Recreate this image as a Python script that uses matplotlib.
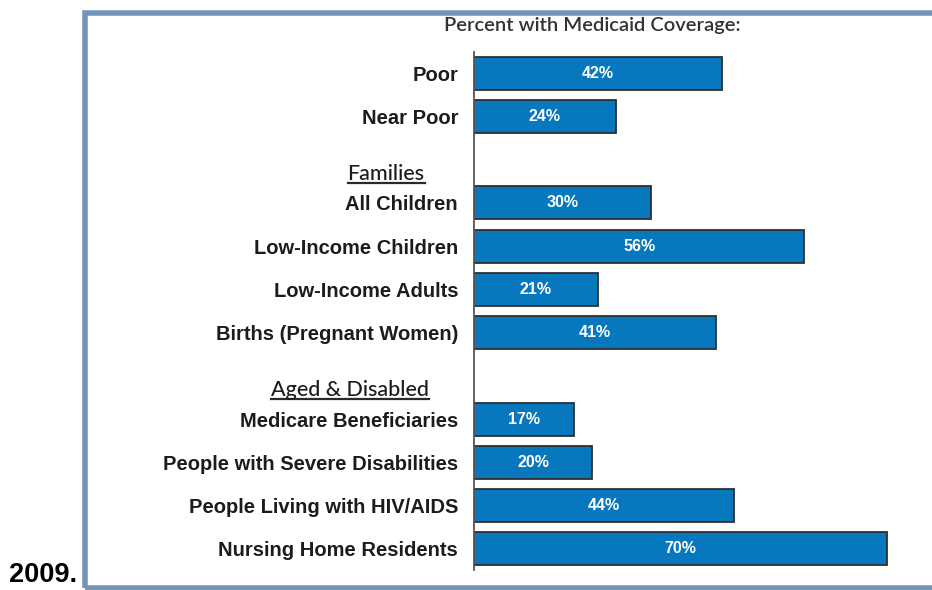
import matplotlib
matplotlib.use("Agg")
import matplotlib.pyplot as plt
from matplotlib import transforms
from matplotlib.lines import Line2D
from matplotlib.patches import Rectangle

# rows grouped under optional section headings
group_names = ["", "Families", "Aged & Disabled"]
group_rows = [
    ["Poor", "Near Poor"],
    ["All Children", "Low-Income Children", "Low-Income Adults",
     "Births (Pregnant Women)"],
    ["Medicare Beneficiaries", "People with Severe Disabilities",
     "People Living with HIV/AIDS", "Nursing Home Residents"],
]
group_values = [
    [42, 24],
    [30, 56, 21, 41],
    [17, 20, 44, 70],
]

BAR_BLUE = "#0878BE"
FRAME_BLUE = "#7395BB"
TEXT_DARK = "#1c1c1c"

W, H = 932, 590
fig = plt.figure(figsize=(W / 100, H / 100), dpi=100)

# slot layout: one empty slot before each named group
labels, values, slots, head_slots = [], [], [], []
pos = 0
for name, rows, vals in zip(group_names, group_rows, group_values):
    if name:
        head_slots.append((name, pos + 0.32))
        pos += 1
    for lab, v in zip(rows, vals):
        labels.append(lab)
        values.append(v)
        slots.append(pos)
        pos += 1

ax_left, ax_top, ax_bot = 474, 52, 570
ax = fig.add_axes([ax_left / W, (H - ax_bot) / H, 1 - ax_left / W,
                   (ax_bot - ax_top) / H])
ax.barh(slots, values, height=0.76, color=BAR_BLUE, edgecolor="#2f2f2f",
        linewidth=1.3, zorder=2)
for y, v in zip(slots, values):
    ax.text(v / 2, y, f"{v}%", ha="center", va="center", color="white",
            fontsize=11.5, fontweight="bold", family="Liberation Sans",
            zorder=3)

ax.set_xlim(0, (W - ax_left) / 5.9)
ax.set_ylim(pos - 1 + 0.49, -0.49)
ax.set_yticks(slots)
ax.set_yticklabels(labels, fontsize=14.5, fontweight="bold",
                   family="Liberation Sans", color=TEXT_DARK)
ax.tick_params(axis="y", length=0, pad=11.5)
ax.set_xticks([])
for side in ["top", "right", "bottom"]:
    ax.spines[side].set_visible(False)
ax.spines["left"].set_color("#555555")
ax.spines["left"].set_linewidth(1.3)

# section headings, underlined
head_x = {"Families": 386, "Aged & Disabled": 350}
blend = transforms.blended_transform_factory(fig.transFigure, ax.transData)
heads = []
for name, y in head_slots:
    t = fig.text(head_x[name] / W, y, name, transform=blend, ha="center",
                 va="center", fontsize=15.5, family="Lato",
                 fontweight="medium", color=TEXT_DARK)
    heads.append(t)

fig.text(592 / W, (H - 25) / H, "Percent with Medicaid Coverage:",
         ha="center", va="center", fontsize=14.5, family="Lato",
         fontweight="semibold", color="#333333")
fig.text(9 / W, 1.5 / H, "2009.", ha="left", va="bottom",
         fontsize=19.5, fontweight="bold", family="Liberation Sans",
         color="black")

# frame around the chart, open to the right edge
fig.add_artist(Rectangle((84.5 / W, 2.5 / H), 2.0, (587.5 - 12.5) / H,
                         transform=fig.transFigure, fill=False,
                         edgecolor=FRAME_BLUE, linewidth=4.0,
                         clip_on=False))

fig.canvas.draw()
renderer = fig.canvas.get_renderer()
for t in heads:
    bb = t.get_window_extent(renderer)
    yline = bb.y0 + 1
    fig.add_artist(Line2D([bb.x0 / W, bb.x1 / W], [yline / H, yline / H],
                          transform=fig.transFigure, color="#2a2a2a",
                          linewidth=1.6))

fig.savefig("out.png", dpi=100)
